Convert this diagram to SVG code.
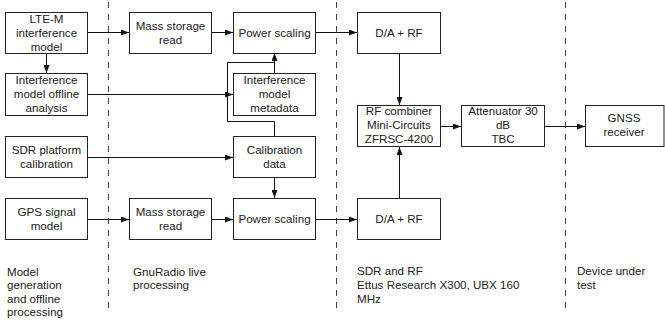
<svg xmlns="http://www.w3.org/2000/svg" width="665" height="326" viewBox="0 0 665 326">
<style>
.box{fill:#fff;stroke:#222;stroke-width:1}
.t{font-family:"Liberation Sans",Arial,sans-serif;font-size:11.6px;fill:#222;text-anchor:middle}
.l{font-family:"Liberation Sans",Arial,sans-serif;font-size:11.6px;fill:#222}
.c{fill:none;stroke:#111;stroke-width:1}
.d{fill:none;stroke:#444;stroke-width:1;stroke-dasharray:6 6}
</style>
<defs>
<marker id="ah" viewBox="0 0 8 6" refX="8" refY="3" markerWidth="8" markerHeight="6" markerUnits="userSpaceOnUse" orient="auto">
<path d="M0,0 L8,3 L0,6 Z" fill="#111"/>
</marker>
</defs>
<rect width="665" height="326" fill="#fff"/>
<g id="dividers">
<line class="d" x1="108.5" y1="2" x2="108.5" y2="310"/>
<line class="d" x1="336.5" y1="2" x2="336.5" y2="310"/>
<line class="d" x1="565.5" y1="2" x2="565.5" y2="310"/>
</g>
<g id="connectors">
<line class="c" x1="87" y1="32.5" x2="129" y2="32.5" marker-end="url(#ah)"/>
<line class="c" x1="212" y1="32.5" x2="233" y2="32.5" marker-end="url(#ah)"/>
<line class="c" x1="315" y1="32.5" x2="357" y2="32.5" marker-end="url(#ah)"/>
<line class="c" x1="46.5" y1="53" x2="46.5" y2="73" marker-end="url(#ah)"/>
<line class="c" x1="87" y1="94.5" x2="233" y2="94.5" marker-end="url(#ah)"/>
<line class="c" x1="274.5" y1="73" x2="274.5" y2="53" marker-end="url(#ah)"/>
<polyline class="c" points="274.5,137 274.5,121.5 227.5,121.5 227.5,62.5 274.5,62.5"/>
<line class="c" x1="87" y1="157.5" x2="233" y2="157.5" marker-end="url(#ah)"/>
<line class="c" x1="274.5" y1="177" x2="274.5" y2="198" marker-end="url(#ah)"/>
<line class="c" x1="87" y1="219.5" x2="129" y2="219.5" marker-end="url(#ah)"/>
<line class="c" x1="212" y1="219.5" x2="233" y2="219.5" marker-end="url(#ah)"/>
<line class="c" x1="315" y1="219.5" x2="357" y2="219.5" marker-end="url(#ah)"/>
<line class="c" x1="399.5" y1="53" x2="399.5" y2="105" marker-end="url(#ah)"/>
<line class="c" x1="399.5" y1="198" x2="399.5" y2="147" marker-end="url(#ah)"/>
<line class="c" x1="440" y1="126.5" x2="461" y2="126.5" marker-end="url(#ah)"/>
<line class="c" x1="544" y1="126.5" x2="585" y2="126.5" marker-end="url(#ah)"/>
</g>
<g id="lte">
<rect class="box" x="5.5" y="12.5" width="82" height="41"/>
<text class="t" x="46.5" y="22.5">LTE-M</text>
<text class="t" x="46.5" y="36.5">interference</text>
<text class="t" x="46.5" y="50.5">model</text>
</g>
<g id="offline">
<rect class="box" x="5.5" y="73.5" width="82" height="42"/>
<text class="t" x="46.5" y="84">Interference</text>
<text class="t" x="46.5" y="98">model offline</text>
<text class="t" x="46.5" y="112">analysis</text>
</g>
<g id="sdrcal">
<rect class="box" x="5.5" y="136.5" width="82" height="41"/>
<text class="t" x="46.5" y="154">SDR platform</text>
<text class="t" x="46.5" y="168">calibration</text>
</g>
<g id="gps">
<rect class="box" x="5.5" y="198.5" width="82" height="41"/>
<text class="t" x="46.5" y="216">GPS signal</text>
<text class="t" x="46.5" y="230">model</text>
</g>
<g id="mass1">
<rect class="box" x="129.5" y="12.5" width="82" height="41"/>
<text class="t" x="170.5" y="29.5">Mass storage</text>
<text class="t" x="170.5" y="43.5">read</text>
</g>
<g id="mass2">
<rect class="box" x="129.5" y="198.5" width="82" height="41"/>
<text class="t" x="170.5" y="216">Mass storage</text>
<text class="t" x="170.5" y="230">read</text>
</g>
<g id="power1">
<rect class="box" x="233.5" y="12.5" width="82" height="41"/>
<text class="t" x="274.5" y="36.5">Power scaling</text>
</g>
<g id="meta">
<rect class="box" x="233.5" y="73.5" width="82" height="42"/>
<text class="t" x="274.5" y="84">Interference</text>
<text class="t" x="274.5" y="98">model</text>
<text class="t" x="274.5" y="112">metadata</text>
</g>
<g id="caldata">
<rect class="box" x="233.5" y="136.5" width="82" height="41"/>
<text class="t" x="274.5" y="154">Calibration</text>
<text class="t" x="274.5" y="168">data</text>
</g>
<g id="power2">
<rect class="box" x="233.5" y="198.5" width="82" height="41"/>
<text class="t" x="274.5" y="223">Power scaling</text>
</g>
<g id="da1">
<rect class="box" x="357.5" y="12.5" width="83" height="41"/>
<text class="t" x="399" y="36.5">D/A + RF</text>
</g>
<g id="combiner">
<rect class="box" x="357.5" y="105.5" width="83" height="41"/>
<text class="t" x="399" y="114.5">RF combiner</text>
<text class="t" x="399" y="128.5">Mini-Circuits</text>
<text class="t" x="399" y="142.5">ZFRSC-4200</text>
</g>
<g id="da2">
<rect class="box" x="357.5" y="198.5" width="83" height="41"/>
<text class="t" x="399" y="223">D/A + RF</text>
</g>
<g id="atten">
<rect class="box" x="461.5" y="105.5" width="83" height="41"/>
<text class="t" x="503" y="114.5">Attenuator 30</text>
<text class="t" x="503" y="128.5">dB</text>
<text class="t" x="503" y="142.5">TBC</text>
</g>
<g id="gnss">
<rect class="box" x="585.5" y="105.5" width="78.5" height="41"/>
<text class="t" x="624" y="122">GNSS</text>
<text class="t" x="624" y="136">receiver</text>
</g>
<g id="labels">
<text class="l" x="7" y="276">Model</text>
<text class="l" x="7" y="289.3">generation</text>
<text class="l" x="7" y="302.6">and offline</text>
<text class="l" x="7" y="316">processing</text>
<text class="l" x="133" y="275.5">GnuRadio live</text>
<text class="l" x="133" y="289">processing</text>
<text class="l" x="357" y="274.5">SDR and RF</text>
<text class="l" x="357" y="288.5">Ettus Research X300, UBX 160</text>
<text class="l" x="357" y="302.5">MHz</text>
<text class="l" x="577" y="274.5">Device under</text>
<text class="l" x="577" y="288.5">test</text>
</g>
</svg>
